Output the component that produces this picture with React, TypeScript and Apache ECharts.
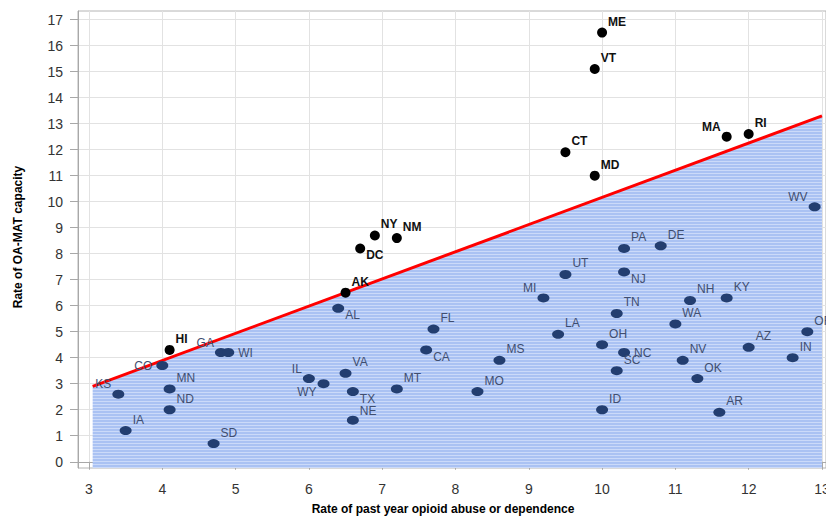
import React, { useEffect, useRef } from "react";
import * as echarts from "echarts";

// States above the reference line (black)
const aboveStates = ["ME", "VT", "MA", "RI", "CT", "MD", "NY", "NM", "DC", "AK", "HI"];
const aboveX = [10.0, 9.9, 11.7, 12.0, 9.5, 9.9, 6.9, 7.2, 6.7, 6.5, 4.1];
const aboveY = [16.5, 15.1, 12.5, 12.6, 11.9, 11.0, 8.7, 8.6, 8.2, 6.5, 4.3];

// States below the reference line (navy)
const belowStates = [
  "KS", "IA", "CO", "MN", "ND", "SD", "GA", "WI", "IL", "WY", "AL", "VA", "TX", "NE",
  "MT", "FL", "CA", "MS", "MO", "MI", "UT", "LA", "PA", "DE", "NJ", "TN", "NH", "KY",
  "WA", "OH", "NC", "SC", "NV", "OK", "AZ", "IN", "OR", "WV", "ID", "AR",
];
const belowX = [
  3.4, 3.5, 4.0, 4.1, 4.1, 4.7, 4.8, 4.9, 6.0, 6.2, 6.4, 6.5, 6.6, 6.6,
  7.2, 7.7, 7.6, 8.6, 8.3, 9.2, 9.5, 9.4, 10.3, 10.8, 10.3, 10.2, 11.2, 11.7,
  11.0, 10.0, 10.3, 10.2, 11.1, 11.3, 12.0, 12.6, 12.8, 12.9, 10.0, 11.6,
];
const belowY = [
  2.6, 1.2, 3.7, 2.8, 2.0, 0.7, 4.2, 4.2, 3.2, 3.0, 5.9, 3.4, 2.7, 1.6,
  2.8, 5.1, 4.3, 3.9, 2.7, 6.3, 7.2, 4.9, 8.2, 8.3, 7.3, 5.7, 6.2, 6.3,
  5.3, 4.5, 4.2, 3.5, 3.9, 3.2, 4.4, 4.0, 5.0, 9.8, 2.0, 1.9,
];

// Reference line
const lineX = [3.05, 13.0];
const lineY = [2.9, 13.3];

// Axis ticks
const xTicks = [3, 4, 5, 6, 7, 8, 9, 10, 11, 12, 13];
const yTicks = [0, 1, 2, 3, 4, 5, 6, 7, 8, 9, 10, 11, 12, 13, 14, 15, 16, 17];

// label placement (default: top-right)
const labelPlace: Record<string, string> = {
  MA: "tl", DC: "br", GA: "tl", WI: "r", CO: "l", KS: "tl", IL: "tl", WY: "bl",
  AL: "br", TX: "br", CA: "br", MI: "tl", NJ: "br", NC: "r", WV: "tl", NE: "tr2",
};

function labelFor(st: string) {
  const p = labelPlace[st] || "tr";
  switch (p) {
    case "tl":
      return { position: "left", distance: 1, offset: [0, -10] };
    case "br":
      return { position: "right", distance: 1, offset: [0, 7] };
    case "bl":
      return { position: "left", distance: 1, offset: [0, 8] };
    case "r":
      return { position: "right", distance: 4, offset: [0, 0] };
    case "l":
      return { position: "left", distance: 4, offset: [0, 0] };
    case "tr2":
      return { position: "right", distance: 1, offset: [0, -9] };
    default:
      return { position: "right", distance: 1, offset: [0, -11] };
  }
}

function makePattern() {
  const c = document.createElement("canvas");
  c.width = 4;
  c.height = 3;
  const ctx = c.getContext("2d")!;
  ctx.fillStyle = "#aac2f3";
  ctx.fillRect(0, 0, 4, 3);
  ctx.fillStyle = "#cbdaf9";
  ctx.fillRect(0, 2, 4, 1);
  return c;
}

const FONT = "Arial, 'Liberation Sans', sans-serif";

export default function App() {
  const ref = useRef<HTMLDivElement>(null);
  useEffect(() => {
    if (!ref.current) return;
    const chart = echarts.init(ref.current, null, { renderer: "svg" });
    const aboveData = aboveStates.map((s, i) => ({
      name: s,
      value: [aboveX[i], aboveY[i]],
      label: labelFor(s),
    }));
    const belowData = belowStates.map((s, i) => ({
      name: s,
      value: [belowX[i], belowY[i]],
      label: labelFor(s),
    }));
    chart.setOption({
      animation: false,
      backgroundColor: "#ffffff",
      grid: {
        left: 78,
        right: 0,
        top: 11,
        bottom: 51,
        outerBoundsMode: "none",
        containLabel: false,
        show: true,
        borderColor: "#b4b4b4",
        borderWidth: 1,
      },
      xAxis: {
        type: "value",
        min: 2.85,
        max: 13.055,
        axisLine: { show: true, lineStyle: { color: "#a8a8a8", width: 1 } },
        axisTick: {
          show: true,
          customValues: xTicks,
          length: 8,
          lineStyle: { color: "#a8a8a8" },
        },
        axisLabel: {
          customValues: xTicks,
          color: "#333",
          fontSize: 14,
          fontFamily: FONT,
          margin: 14,
        },
        splitLine: { show: true, lineStyle: { color: "#e2e2e2", width: 1 } },
      },
      yAxis: {
        type: "value",
        min: -0.24,
        max: 17.33,
        axisLine: { show: true, lineStyle: { color: "#a8a8a8", width: 1 } },
        axisTick: {
          show: true,
          customValues: yTicks,
          length: 8,
          lineStyle: { color: "#a8a8a8" },
        },
        axisLabel: {
          customValues: yTicks,
          color: "#333",
          fontSize: 14,
          fontFamily: FONT,
          margin: 15,
        },
        splitLine: { show: true, lineStyle: { color: "#e2e2e2", width: 1 } },
      },
      graphic: [
        {
          type: "text",
          x: 443,
          y: 509,
          style: {
            text: "Rate of past year opioid abuse or dependence",
            font: `bold 12px ${FONT}`,
            fill: "#000",
            align: "center",
            verticalAlign: "middle",
          },
        },
        {
          type: "text",
          x: 18,
          y: 237,
          rotation: Math.PI / 2,
          style: {
            text: "Rate of OA-MAT capacity",
            font: `bold 12px ${FONT}`,
            fill: "#000",
            align: "center",
            verticalAlign: "middle",
          },
        },
      ],
      series: [
        {
          type: "line",
          data: lineX.map((x, i) => [x, lineY[i]]),
          showSymbol: false,
          symbol: "none",
          lineStyle: { color: "#ff0000", width: 3 },
          itemStyle: { color: "#ff0000" },
          areaStyle: {
            origin: "start",
            opacity: 1,
            color: { image: makePattern(), repeat: "repeat" },
          },
          z: 2,
          silent: true,
        },
        {
          type: "scatter",
          data: belowData,
          symbol: "circle",
          symbolSize: [12, 9],
          itemStyle: { color: "#233e70", opacity: 1 },
          label: {
            show: true,
            formatter: "{b}",
            color: "#3f4e70",
            fontSize: 12,
            fontFamily: FONT,
          },
          z: 3,
        },
        {
          type: "scatter",
          data: aboveData,
          symbol: "circle",
          symbolSize: 10,
          itemStyle: { color: "#000000", opacity: 1 },
          label: {
            show: true,
            formatter: "{b}",
            color: "#111",
            fontSize: 12,
            fontWeight: "bold",
            fontFamily: FONT,
          },
          z: 4,
        },
      ],
    });
    return () => chart.dispose();
  }, []);
  return (
    <div
      ref={ref}
      style={{ position: "absolute", left: 0, top: 0, width: 826, height: 519 }}
    />
  );
}
